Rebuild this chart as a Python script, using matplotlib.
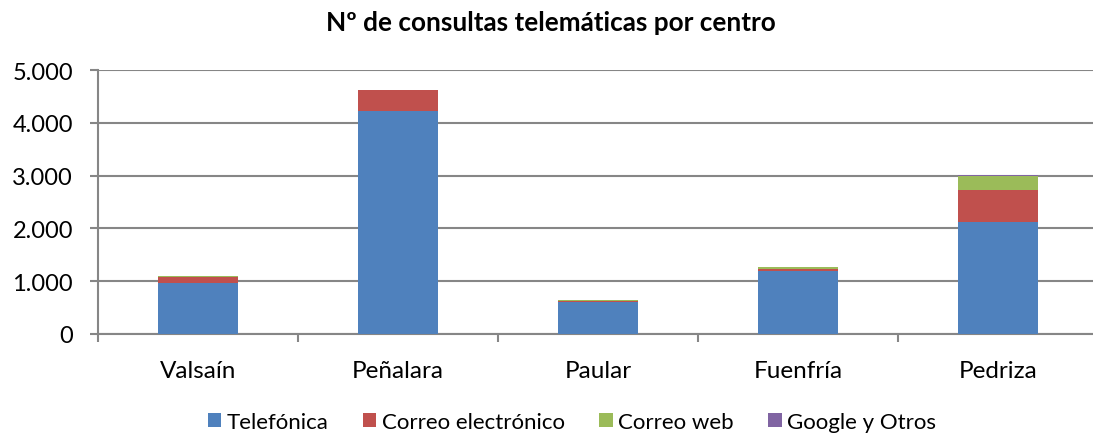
import matplotlib
matplotlib.use("Agg")
import matplotlib.pyplot as plt
from matplotlib.patches import Patch
from matplotlib.ticker import FuncFormatter
import numpy as np

categories = ["Valsaín", "Peñalara", "Paular", "Fuenfría", "Pedriza"]
series_names = ["Telefónica", "Correo electrónico", "Correo web", "Google y Otros"]
telefonica = [965, 4225, 610, 1185, 2115]
correo_electronico = [110, 390, 22, 40, 620]
correo_web = [18, 1, 5, 40, 265]
google_otros = [2, 1, 1, 4, 2]
colors = ["#4F81BD", "#C0504D", "#9BBB59", "#8064A2"]
yticks = [0, 1000, 2000, 3000, 4000, 5000]

plt.rcParams['font.family'] = ['Lato', 'DejaVu Sans']

fig = plt.figure(figsize=(10.93, 4.35), dpi=100)
W, H = 1093, 435
ax = fig.add_axes([98 / W, (H - 335) / H, 1000 / W, (335 - 71) / H])

x = np.arange(len(categories))
bottom = np.zeros(len(categories))
for vals, name, col in zip([telefonica, correo_electronico, correo_web, google_otros], series_names, colors):
    ax.bar(x, vals, width=0.4, bottom=bottom, color=col, label=name, zorder=3)
    bottom += np.array(vals)

ax.set_xlim(-0.5, len(categories) - 0.5)
ax.set_ylim(0, 5000)
ax.set_yticks(yticks)
ax.yaxis.set_major_formatter(FuncFormatter(lambda v, p: f"{int(v):,}".replace(",", ".")))
ax.set_xticks(x)
ax.set_xticklabels(categories)
ax.set_xticks(np.arange(-0.5, len(categories)), minor=True)
ax.tick_params(axis='x', which='major', length=0, pad=19, labelsize=17.5)
ax.tick_params(axis='x', which='minor', length=6, color='#868686', width=1.5, direction='out')
ax.tick_params(axis='y', length=6, color='#868686', width=1.5, labelsize=17, pad=12)
ax.grid(axis='y', color='#868686', linewidth=1.5, zorder=0)
for s in ['top', 'right']:
    ax.spines[s].set_visible(False)
for s in ['left', 'bottom']:
    ax.spines[s].set_color('#868686')
    ax.spines[s].set_linewidth(1.5)

fig.text(551 / W, 1 - 23 / H, "Nº de consultas telemáticas por centro", ha='center', va='center',
         fontsize=18.8, fontweight='bold')

handles = [Patch(facecolor=c, label=n) for c, n in zip(colors, series_names)]
fig.legend(handles=handles, loc='center', bbox_to_anchor=(572 / W, 1 - 423 / H), ncol=4,
           frameon=False, fontsize=16, handlelength=0.6, handleheight=0.6, handletextpad=0.25,
           columnspacing=1.55)

fig.savefig("out.png", dpi=100)
